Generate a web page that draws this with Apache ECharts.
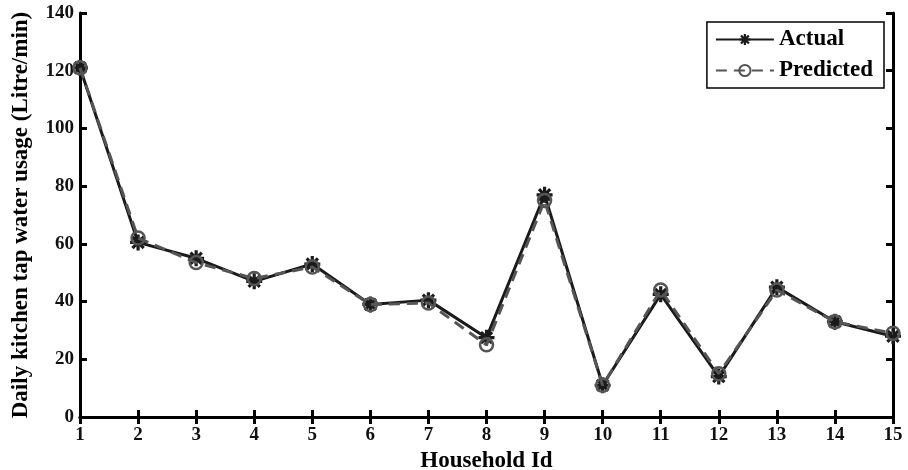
<!DOCTYPE html>
<html>
<head>
<meta charset="utf-8">
<script src="https://cdn.jsdelivr.net/npm/echarts@6/dist/echarts.min.js"></script>
<style>
  html, body { margin: 0; padding: 0; background: #fff; }
  #chart { width: 908px; height: 470px; }
</style>
</head>
<body>
<div id="chart"></div>
<script>
const households = ["1", "2", "3", "4", "5", "6", "7", "8", "9", "10", "11", "12", "13", "14", "15"];
const actual = [121, 60.5, 55, 47, 53, 39, 40.5, 27.5, 77, 11, 42.5, 14, 45, 33, 28];
const predicted = [121, 62, 53.5, 48, 52, 39, 39.5, 25, 75, 11, 44, 15, 44, 33, 29];

const FONT = "Liberation Serif";
// chunky asterisk used by the "Actual" markers
const STAR = "path://M4,0H6V2.6L7.8,0.8L9.2,2.2L7.4,4H10V6H7.4L9.2,7.8L7.8,9.2L6,7.4V10H4V7.4L2.2,9.2L0.8,7.8L2.6,6H0V4H2.6L0.8,2.2L2.2,0.8L4,2.6Z";

const chart = echarts.init(document.getElementById("chart"));

// top / right mirror axes: only the box line and inward ticks
const mirrorAxis = {
  axisLine: { show: true, lineStyle: { color: "#000", width: 3 } },
  axisTick: { show: true, inside: true, length: 7, lineStyle: { color: "#000", width: 3 } },
  axisLabel: { show: false },
  splitLine: { show: false }
};

chart.setOption({
  animation: false,
  grid: { left: 80, right: 15, top: 13, bottom: 53, outerBoundsMode: "none" },
  legend: {
    right: 24,
    top: 22,
    orient: "vertical",
    backgroundColor: "#fff",
    borderColor: "#000",
    borderWidth: 1.5,
    borderRadius: 0,
    padding: [6, 11, 6, 8],
    itemWidth: 58,
    itemHeight: 14,
    itemGap: 8,
    textStyle: { fontFamily: FONT, fontWeight: "bold", fontSize: 23, color: "#000" },
    data: ["Actual", "Predicted"]
  },
  xAxis: [
    {
      type: "category",
      data: households,
      boundaryGap: false,
      name: "Household Id",
      nameLocation: "middle",
      nameGap: 33,
      nameTextStyle: { fontFamily: FONT, fontWeight: "bold", fontSize: 23, color: "#000" },
      axisLine: { lineStyle: { color: "#000", width: 3 } },
      axisTick: { inside: true, length: 7, alignWithLabel: true, lineStyle: { color: "#000", width: 3 } },
      axisLabel: { fontFamily: FONT, fontWeight: "bold", fontSize: 19, color: "#111", margin: 9 },
      splitLine: { show: false }
    },
    Object.assign({ type: "category", data: households, boundaryGap: false, position: "top" }, mirrorAxis)
  ],
  yAxis: [
    {
      type: "value",
      min: 0,
      max: 140,
      interval: 20,
      name: "Daily kitchen tap water usage (Litre/min)",
      nameLocation: "middle",
      nameGap: 47,
      nameTextStyle: { fontFamily: FONT, fontWeight: "bold", fontSize: 23, color: "#000" },
      axisLine: { show: true, lineStyle: { color: "#000", width: 3 } },
      axisTick: { show: true, inside: true, length: 7, lineStyle: { color: "#000", width: 3 } },
      axisLabel: { fontFamily: FONT, fontWeight: "bold", fontSize: 19, color: "#111", margin: 6 },
      splitLine: { show: false }
    },
    Object.assign({ type: "value", min: 0, max: 140, interval: 20, position: "right" }, mirrorAxis)
  ],
  series: [
    {
      name: "Actual",
      type: "line",
      data: actual,
      symbol: STAR,
      symbolSize: 16,
      itemStyle: { color: "#1a1a1a" },
      lineStyle: { color: "#1a1a1a", width: 3 },
      z: 3
    },
    {
      name: "Predicted",
      type: "line",
      data: predicted,
      symbol: "circle",
      symbolSize: 13,
      itemStyle: { color: "rgba(255,255,255,0)", borderColor: "#555", borderWidth: 2.5 },
      lineStyle: { color: "#555", width: 3, type: [11, 7] },
      z: 4
    }
  ]
});
</script>
</body>
</html>
